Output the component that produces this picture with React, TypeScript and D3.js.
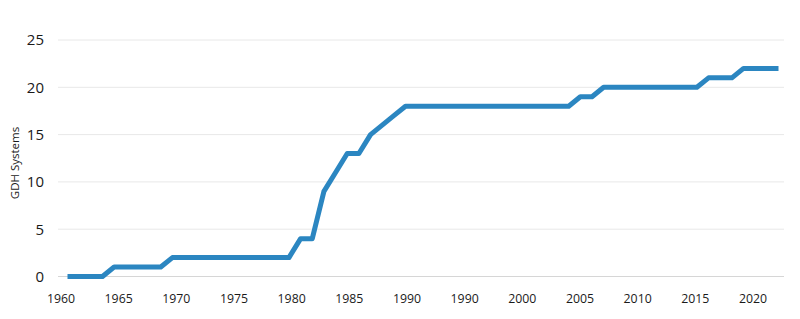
import React from "react";
import * as d3 from "d3";

const years: number[] = d3.range(1960, 2022);
const values: number[] = [
  0, 0, 0, 0,
  1, 1, 1, 1, 1,
  2, 2, 2, 2, 2, 2, 2, 2, 2, 2, 2,
  4, 4,
  9, 11, 13, 13,
  15, 16, 17,
  18, 18, 18, 18, 18, 18, 18, 18, 18, 18, 18, 18, 18, 18, 18,
  19, 19,
  20, 20, 20, 20, 20, 20, 20, 20, 20,
  21, 21, 21,
  22, 22, 22, 22,
];
const xTickLabels: string[] = [
  "1960", "1965", "1970", "1975", "1980", "1985", "1990", "1990",
  "2000", "2005", "2010", "2015", "2020",
];
const yTicks: number[] = [0, 5, 10, 15, 20, 25];
const yTitle = "GDH Systems";

const W = 800;
const H = 319;
const FONT = "'Open Sans', 'Noto Sans', sans-serif";

export default function App() {
  const x = d3.scaleLinear().domain([1960, 2021]).range([67.5, 778.5]);
  const y = d3.scaleLinear().domain([0, 25]).range([276.5, 40]);
  const xl = d3
    .scalePoint<number>()
    .domain(xTickLabels.map((_, i) => i))
    .range([61, 753]);
  const data = years.map((yr, i) => ({ yr, v: values[i] }));
  const line = d3
    .line<{ yr: number; v: number }>()
    .x((d) => x(d.yr))
    .y((d) => y(d.v));

  return (
    <svg
      width={W}
      height={H}
      style={{ position: "absolute", left: 0, top: 0, background: "#fff" }}
    >
      {yTicks.map((t) => (
        <g key={t}>
          <line
            x1={58}
            x2={784}
            y1={y(t)}
            y2={y(t)}
            stroke={t === 0 ? "#d6d6d6" : "#e8e8e8"}
            strokeWidth={1}
          />
          <text
            x={44}
            y={y(t)}
            dy="0.36em"
            textAnchor="end"
            fontFamily={FONT}
            fontSize={15}
            fill="#1a1a1a"
          >
            {t}
          </text>
        </g>
      ))}
      {xTickLabels.map((lab, i) => (
        <text
          key={i}
          x={xl(i)}
          y={298.5}
          dy="0.36em"
          textAnchor="middle"
          fontFamily={FONT}
          fontSize={12.3}
          fill="#1a1a1a"
        >
          {lab}
        </text>
      ))}
      <text
        transform={`translate(15,${163}) rotate(-90)`}
        textAnchor="middle"
        dy="0.35em"
        fontFamily={FONT}
        fontSize={11.5}
        fill="#1a1a1a"
      >
        {yTitle}
      </text>
      <path
        d={line(data) || ""}
        fill="none"
        stroke="#2b86c1"
        strokeWidth={5}
        strokeLinejoin="round"
      />
    </svg>
  );
}
